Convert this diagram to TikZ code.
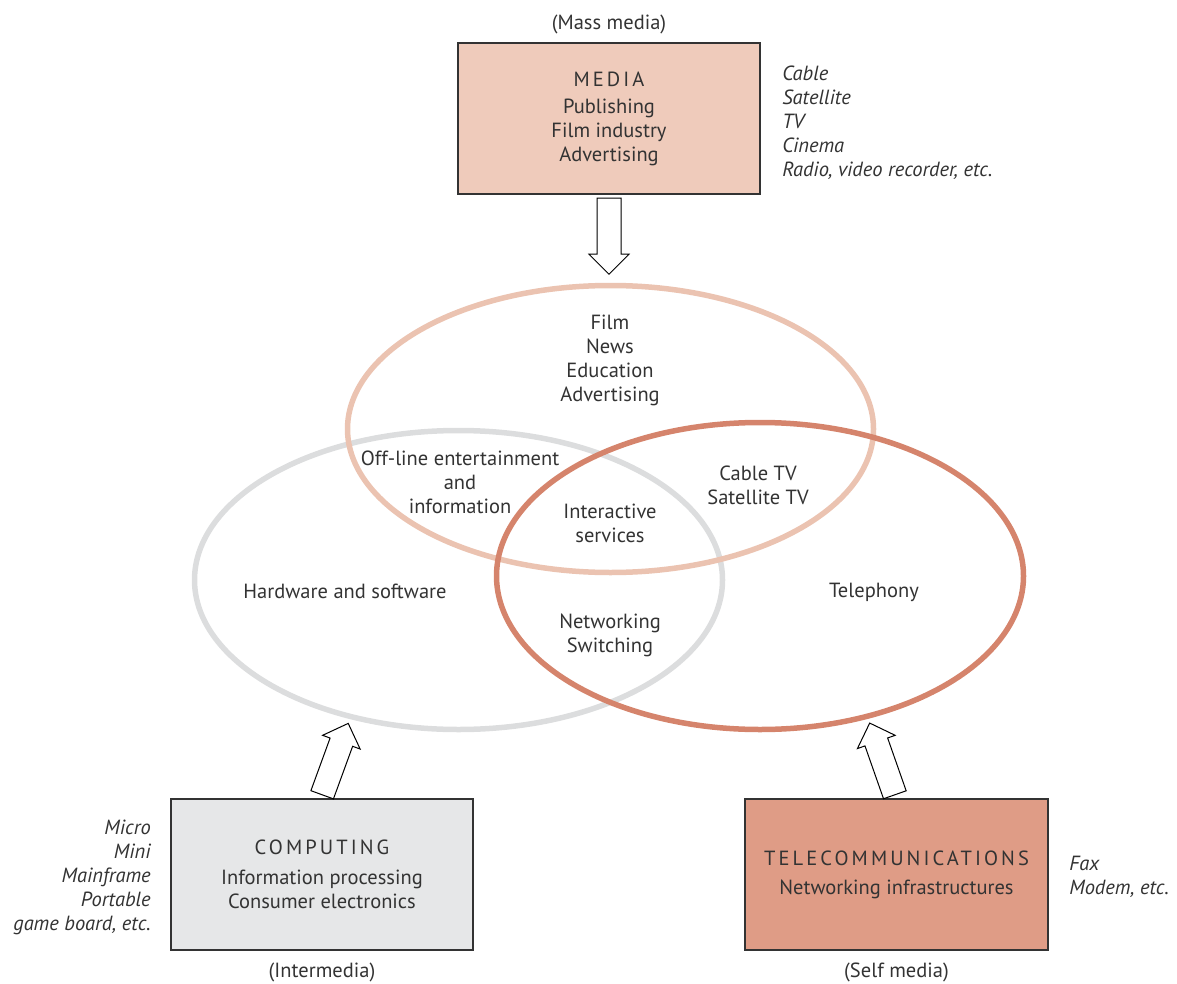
\documentclass[tikz,border=0pt]{standalone}
\usepackage{fontspec}
\setmainfont{PT Sans}
\usetikzlibrary{positioning,shapes.arrows}

\definecolor{mediafill}{HTML}{EFCBBB}
\definecolor{compfill}{HTML}{E6E7E8}
\definecolor{telefill}{HTML}{DF9C86}
\definecolor{mediaring}{HTML}{EBC3B1}
\definecolor{compring}{HTML}{DCDDDE}
\definecolor{telering}{HTML}{D5846C}
\definecolor{inkgray}{HTML}{333333}

\newcommand{\spaced}[1]{{\addfontfeature{LetterSpace=15}#1}}

\begin{document}
\begin{tikzpicture}[x=1pt,y=-1pt,font=\fontsize{20.5}{24}\selectfont,text=inkgray]
\tikzstyle{sector}=[rectangle,draw=inkgray,line width=1.5pt,minimum width=302pt,minimum height=151pt,align=center]
\tikzstyle{note}=[font=\fontsize{20.5}{24}\selectfont\itshape]
\tikzstyle{ring}=[line width=5.5pt]
\tikzstyle{bigarrow}=[single arrow,draw=black,fill=white,line width=1pt,inner xsep=0pt,inner ysep=11.5pt,minimum width=39pt,single arrow head extend=8pt,minimum height=76pt,sloped,allow upside down,anchor=tail]

\useasboundingbox (0,0) rectangle (1177,984);

% the three rings
\draw[ring,compring] (458.5,580) ellipse [x radius=264, y radius=149.5];
\draw[ring,mediaring] (610.5,429) ellipse [x radius=263, y radius=143.5];
\draw[ring,telering] (760,576) ellipse [x radius=263.5, y radius=153.5];

% what sits in the rings
\node (filmtopics) [align=center] at (610,360) {Film\\ News\\ Education\\ Advertising};
\node (offline) [align=center] at (460,482) {Off-line entertainment\\ and\\ information};
\node (cabletv) [align=center] at (758,485) {Cable TV\\ Satellite TV};
\node (interactive) [align=center] at (610,523) {Interactive\\ services};
\node (hardware) at (345,591) {Hardware and software};
\node (networking) [align=center] at (610,635) {Networking\\ Switching};
\node (telephony) at (874,592) {Telephony};

% the three sectors
\node (media) [sector,fill=mediafill] at (609,118.5) {\spaced{MEDIA}\\[3pt] Publishing\\ Film industry\\ Advertising};
\node (computing) [sector,fill=compfill] at (322,874.5) {\spaced{COMPUTING}\\[6pt] Information processing\\ Consumer electronics};
\node (telecom) [sector,fill=telefill,minimum width=303pt] at (896.5,874.5) {\spaced{TELECOMMUNICATIONS}\\[5pt] Networking infrastructures};

\node (massmedia) [above=5pt of media] {(Mass media)};
\node (intermedia) [below=9pt of computing] {(Intermedia)};
\node (selfmedia) [below=9pt of telecom] {(Self media)};

\node (mediatypes) [note,right=18pt of media,align=left,yshift=-4pt] {Cable\\ Satellite\\ TV\\ Cinema\\ Radio, video recorder, etc.};
\node (comptypes) [note,left=16pt of computing,align=right,yshift=-3pt] {Micro\\ Mini\\ Mainframe\\ Portable\\ game board, etc.};
\node (teletypes) [note,right=17pt of telecom,align=left,yshift=-2pt] {Fax\\ Modem, etc.};

% block arrows into the rings
\path (media.south) ++(0,3) coordinate (mediabase);
\coordinate (mediatip) at (609,273);
\path (mediabase) -- (mediatip) node (mediaarrow) [bigarrow,pos=0] {};

\path (computing.north) ++(0,-3) coordinate (compbase);
\coordinate (comptip) at (348,724);
\path (compbase) -- (comptip) node (comparrow) [bigarrow,pos=0] {};

\path (telecom.north) ++(-1.5,-3) coordinate (telebase);
\coordinate (teletip) at (870,724);
\path (telebase) -- (teletip) node (telearrow) [bigarrow,pos=0] {};
\end{tikzpicture}
\end{document}
